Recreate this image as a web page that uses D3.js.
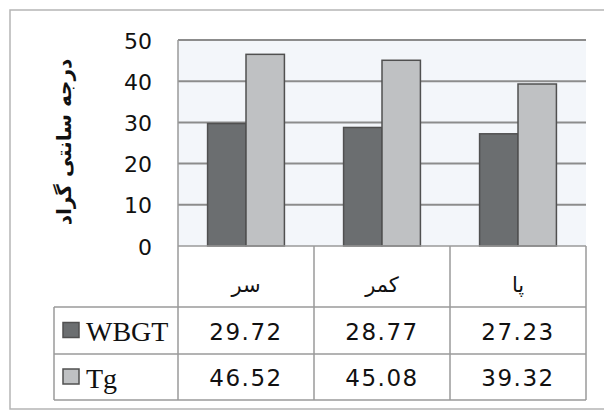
<!DOCTYPE html>
<html>
<head>
<meta charset="utf-8">
<script src="https://cdn.jsdelivr.net/npm/d3@7"></script>
<style>
  body { margin: 0; background: #fff; }
  svg { display: block; }
</style>
</head>
<body>
<div id="chart"></div>
<script>
var categories = ["سر", "کمر", "پا"];
var seriesNames = ["WBGT", "Tg"];
var wbgt = [29.72, 28.77, 27.23];
var tg = [46.52, 45.08, 39.32];
var yTicks = [0, 10, 20, 30, 40, 50];
var yTitle = "درجه سانتی گراد";

var W = 604, H = 412;
var colors = ["#6b6e70", "#bfc1c3"];
var plot = { left: 178, right: 586, top: 40, bottom: 246 };
var rows = [246, 307, 354, 400]; // header, WBGT, Tg bottoms
var legendLeft = 54;

var svg = d3.select("#chart").append("svg")
  .attr("width", W)
  .attr("height", H);

// outer frame
svg.append("rect")
  .attr("x", 10).attr("y", 10)
  .attr("width", 600).attr("height", 399)
  .attr("fill", "none")
  .attr("stroke", "#b5b5b5")
  .attr("stroke-width", 1.5);

var x = d3.scaleBand()
  .domain(categories)
  .range([plot.left, plot.right]);

var x1 = d3.scaleBand()
  .domain(seriesNames)
  .range([0, x.bandwidth()])
  .paddingOuter(0.77);

var y = d3.scaleLinear()
  .domain([0, 50])
  .range([plot.bottom, plot.top]);

// plot background
svg.append("rect")
  .attr("x", plot.left).attr("y", plot.top)
  .attr("width", plot.right - plot.left)
  .attr("height", plot.bottom - plot.top)
  .attr("fill", "#f3f6fa");

// gridlines
svg.append("g")
  .selectAll("line")
  .data(yTicks.filter(function(d) { return d > 0; }))
  .enter().append("line")
  .attr("x1", plot.left).attr("x2", plot.right)
  .attr("y1", function(d) { return y(d); })
  .attr("y2", function(d) { return y(d); })
  .attr("stroke", "#8c8c8c")
  .attr("stroke-width", 2);

// y axis labels
var yAxis = d3.axisLeft(y).tickValues(yTicks).tickSize(0).tickPadding(0);
var ya = svg.append("g")
  .attr("transform", "translate(152,1)")
  .call(yAxis);
ya.select(".domain").remove();
ya.selectAll("text")
  .style("font-family", "'DejaVu Sans', sans-serif")
  .style("font-size", "22px")
  .attr("fill", "#111");

// y axis title
svg.append("text")
  .attr("transform", "translate(64,142) rotate(-90)")
  .attr("text-anchor", "middle")
  .attr("dominant-baseline", "central")
  .style("font-family", "'DejaVu Sans', sans-serif")
  .style("font-size", "20px")
  .style("font-weight", "bold")
  .attr("fill", "#111")
  .text(yTitle);

// bars
var data = categories.map(function(c, i) {
  return { cat: c, vals: [wbgt[i], tg[i]] };
});

var groups = svg.selectAll(".grp")
  .data(data)
  .enter().append("g")
  .attr("class", "grp")
  .attr("transform", function(d) { return "translate(" + x(d.cat) + ",0)"; });

groups.selectAll("rect")
  .data(function(d) { return d.vals.map(function(v, j) { return { s: seriesNames[j], v: v, j: j }; }); })
  .enter().append("rect")
  .attr("x", function(d) { return x1(d.s); })
  .attr("width", x1.bandwidth())
  .attr("y", function(d) { return y(d.v); })
  .attr("height", function(d) { return y(0) - y(d.v); })
  .attr("fill", function(d) { return colors[d.j]; })
  .attr("stroke", "#505050")
  .attr("stroke-width", 1.5);

// data table
var lineColor = "#9a9a9a";
var tbl = svg.append("g");

// horizontal lines
tbl.append("line")
  .attr("x1", plot.left).attr("x2", plot.right)
  .attr("y1", rows[0]).attr("y2", rows[0])
  .attr("stroke", lineColor).attr("stroke-width", 1.5);
[rows[1], rows[2], rows[3]].forEach(function(r) {
  tbl.append("line")
    .attr("x1", legendLeft).attr("x2", plot.right)
    .attr("y1", r).attr("y2", r)
    .attr("stroke", lineColor).attr("stroke-width", 1.5);
});

// vertical lines
tbl.append("line")
  .attr("x1", plot.left).attr("x2", plot.left)
  .attr("y1", plot.top).attr("y2", rows[3])
  .attr("stroke", lineColor).attr("stroke-width", 1.5);
tbl.append("line")
  .attr("x1", legendLeft).attr("x2", legendLeft)
  .attr("y1", rows[1]).attr("y2", rows[3])
  .attr("stroke", lineColor).attr("stroke-width", 1.5);
categories.forEach(function(c) {
  var xr = x(c) + x.bandwidth();
  tbl.append("line")
    .attr("x1", xr).attr("x2", xr)
    .attr("y1", rows[0]).attr("y2", rows[3])
    .attr("stroke", lineColor).attr("stroke-width", 1.5);
});

// category labels
tbl.selectAll(".cat")
  .data(categories)
  .enter().append("text")
  .attr("class", "cat")
  .attr("x", function(d) { return x(d) + x.bandwidth() / 2; })
  .attr("y", (rows[0] + rows[1]) / 2 + 8)
  .attr("text-anchor", "middle")
  .attr("dominant-baseline", "central")
  .style("font-family", "'DejaVu Sans', sans-serif")
  .style("font-size", "21px")
  .attr("fill", "#111")
  .text(function(d) { return d; });

// value rows
[wbgt, tg].forEach(function(vals, j) {
  var cy = (rows[j + 1] + rows[j + 2]) / 2;
  tbl.selectAll(".v" + j)
    .data(vals)
    .enter().append("text")
    .attr("x", function(d, i) { return x(categories[i]) + x.bandwidth() / 2; })
    .attr("y", cy + 1)
    .attr("text-anchor", "middle")
    .attr("dominant-baseline", "central")
    .style("font-family", "'DejaVu Sans', sans-serif")
    .style("font-size", "23px")
    .style("letter-spacing", "1.5px")
    .attr("fill", "#111")
    .text(function(d) { return d.toFixed(2); });

  tbl.append("rect")
    .attr("x", 63).attr("y", cy - 8)
    .attr("width", 16).attr("height", 15)
    .attr("fill", colors[j])
    .attr("stroke", "#505050")
    .attr("stroke-width", 1.5);

  tbl.append("text")
    .attr("x", 86)
    .attr("y", cy + 1)
    .attr("dominant-baseline", "central")
    .style("font-family", "'Liberation Serif', serif")
    .style("font-size", "28px")
    .attr("fill", "#111")
    .text(seriesNames[j]);
});
</script>
</body>
</html>
